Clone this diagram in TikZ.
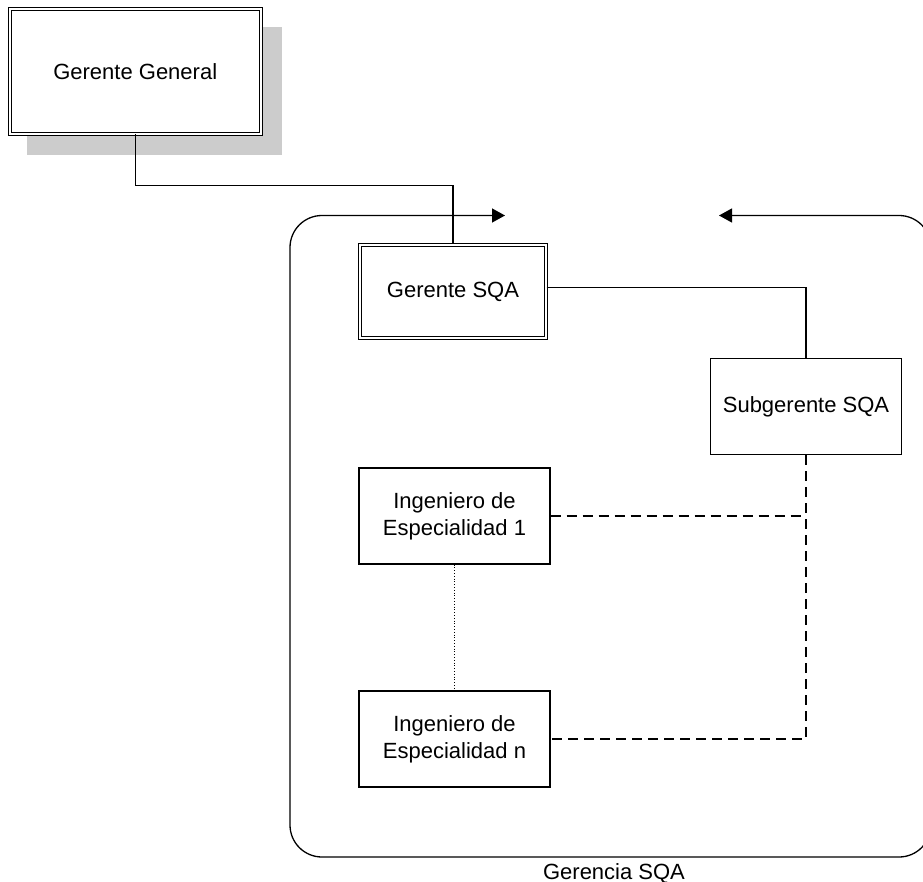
\documentclass[tikz,border=0pt]{standalone}
\usepackage{fontspec}
\setmainfont{Liberation Sans}
\usetikzlibrary{arrows.meta, shadows}
\definecolor{shadowgray}{HTML}{CCCCCC}

\begin{document}
\begin{tikzpicture}[x=1pt, y=-1pt, >={Triangle[length=13pt, width=14pt]}, line width=1.3pt,
    every node/.style={font=\fontsize{22}{27}\selectfont, align=center, inner sep=0pt},
    box/.style={draw, fill=white, minimum width=191pt, minimum height=96pt},
    headbox/.style={draw, fill=white, double, double distance=2pt, line width=1pt, outer sep=auto},
    dashlink/.style={dash pattern=on 10pt off 6pt},
    dotlink/.style={line width=.8pt, dash pattern=on .8pt off 2pt}]
    \useasboundingbox (0,0) rectangle (923,882);

    % frame of the department
    \coordinate (frameNW) at (290,215.5);
    \coordinate (frameSE) at (931,857);
    \coordinate (inL) at (505,215.5);
    \coordinate (inR) at (719,215.5);
    \draw[<->, rounded corners=32pt] (inR) -| (frameSE) -| (frameNW) -- (inL);
    \node[anchor=base] (gerencia) at (614,879) {Gerencia SQA};

    \node[headbox, minimum width=251.5pt, minimum height=124.5pt,
          drop shadow={shadow xshift=19pt, shadow yshift=-19.5pt, fill=shadowgray,
                       draw=shadowgray, line width=4pt, opacity=1}]
          (gg) at (135.25,71.75) {Gerente General};
    \node[headbox, minimum width=186pt, minimum height=93pt] (gsqa) at (453,291.5) {Gerente SQA};
    \node[box] (sub) at (806,406.5) {Subgerente SQA};
    \node[box] (ing1) at (454.5,516) {Ingeniero de\\Especialidad 1};
    \node[box] (ingn) at (454.5,739) {Ingeniero de\\Especialidad n};

    \draw (gg.south) -- ++(0,51) -| (gsqa.north);
    \draw ([yshift=4pt]gsqa.east) -| (sub.north);
    \draw[dashlink] (sub.south) |- (ingn.east);
    \draw[dashlink] (ing1.east) -- (ing1.east -| sub.south);
    \draw[dotlink] (ing1.south) -- (ingn.north);
\end{tikzpicture}
\end{document}
